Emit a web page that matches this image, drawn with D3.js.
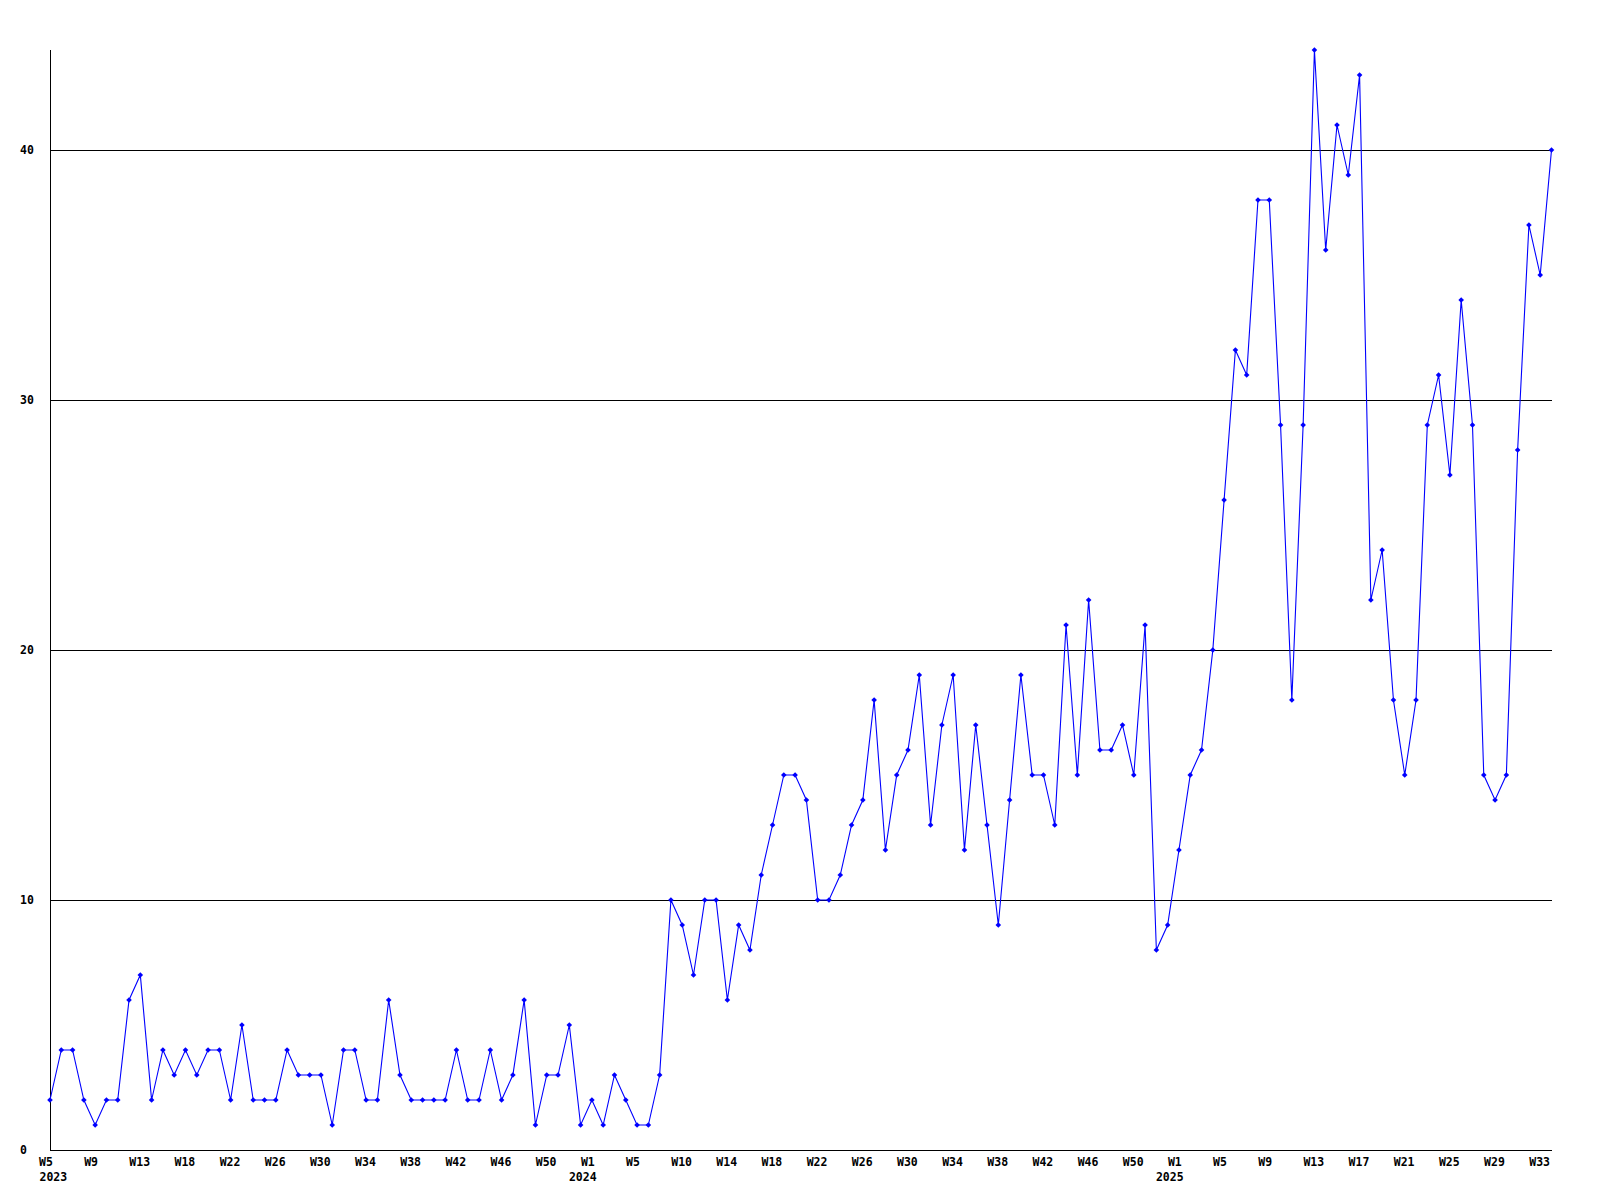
<!DOCTYPE html>
<html>
<head>
<meta charset="utf-8">
<script src="https://cdn.jsdelivr.net/npm/d3@7"></script>
<style>
  html, body { margin: 0; padding: 0; background: #ffffff; }
  svg { display: block; }
  text { font-family: "DejaVu Sans Mono", "Liberation Mono", monospace; font-weight: bold; font-size: 11.5px; fill: #000; }
</style>
</head>
<body>
<script>
// ---- data ----
const values2023 = [2,4,4,2,1,2,2,6,7,2,4,3,4,3,4,4,2,5,2,2,2,4,3,3,3,1,4,4,2,2,6,3,2,2,2,2,4,2,2,4,2,3,6,1,3,3,5,1];
const values2024 = [2,1,3,2,1,1,3,10,9,7,10,10,6,9,8,11,13,15,15,14,10,10,11,13,14,18,12,15,16,19,13,17,19,12,17,13,9,14,19,15,15,13,21,15,22,16,16,17,15,21,8,9];
const values2025 = [12,15,16,20,26,32,31,38,38,29,18,29,44,36,41,39,43,22,24,18,15,18,29,31,27,34,29,15,14,15,28,37,35,40];
const values = values2023.concat(values2024, values2025);

const tickWeeks = ["W5","W9","W13","W18","W22","W26","W30","W34","W38","W42","W46","W50",
                   "W1","W5","W10","W14","W18","W22","W26","W30","W34","W38","W42","W46","W50",
                   "W1","W5","W9","W13","W17","W21","W25","W29","W33"];
const tickEvery = 4;
const yearLabels = ["2023","2024","2025"];
const yearStartIndex = [0, values2023.length, values2023.length + values2024.length];
const yTicks = [0,10,20,30,40];

// ---- layout ----
const W = 1600, H = 1200;
const mLeft = 50, mRight = 1551.5, mTop = 50, mBottom = 1150;

const svg = d3.select("body").append("svg").attr("width", W).attr("height", H);

const x = d3.scaleLinear().domain([0, values.length - 1]).range([mLeft, mRight]);
const y = d3.scaleLinear().domain([0, d3.max(values)]).range([mBottom, mTop]);

// gridlines
svg.append("g").selectAll("line").data(yTicks.filter(d => d > 0)).join("line")
  .attr("x1", mLeft).attr("x2", mRight)
  .attr("y1", d => Math.round(y(d)) + 0.5).attr("y2", d => Math.round(y(d)) + 0.5)
  .attr("stroke", "#000").attr("stroke-width", 1).attr("shape-rendering", "crispEdges");

// axes lines
svg.append("line").attr("x1", mLeft + 0.5).attr("x2", mLeft + 0.5).attr("y1", mTop).attr("y2", Math.round(mBottom) + 1)
  .attr("stroke", "#000").attr("shape-rendering", "crispEdges");
svg.append("line").attr("x1", mLeft).attr("x2", mRight).attr("y1", Math.round(mBottom) + 0.5).attr("y2", Math.round(mBottom) + 0.5)
  .attr("stroke", "#000").attr("shape-rendering", "crispEdges");

// y labels
svg.append("g").selectAll("text").data(yTicks).join("text")
  .attr("x", 20).attr("y", d => y(d)).attr("dy", "0.35em").attr("text-anchor", "start")
  .text(d => d);

// x labels
svg.append("g").selectAll("text").data(tickWeeks).join("text")
  .attr("x", (d, i) => x(i * tickEvery) - 11).attr("y", 1161.5).attr("dy", "0.35em")
  .attr("text-anchor", "start").text(d => d);

svg.append("g").selectAll("text").data(yearLabels).join("text")
  .attr("x", (d, i) => Math.max(39.5, x(yearStartIndex[i]) - 23)).attr("y", 1177).attr("dy", "0.35em")
  .attr("text-anchor", "start").text(d => d);

// line
const line = d3.line().x((d, i) => x(i)).y(d => y(d));
svg.append("path").datum(values).attr("d", line)
  .attr("fill", "none").attr("stroke", "#0000ff").attr("stroke-width", 1.1);

// markers
const hasD2 = !!d3.symbolDiamond2;
const sym = d3.symbol().type(hasD2 ? d3.symbolDiamond2 : d3.symbolSquare).size(hasD2 ? 20 : 14);
svg.append("g").selectAll("path").data(values).join("path")
  .attr("transform", (d, i) => `translate(${x(i)},${y(d)})` + (hasD2 ? "" : " rotate(45)"))
  .attr("d", sym).attr("fill", "#0000ff");
</script>
</body>
</html>
